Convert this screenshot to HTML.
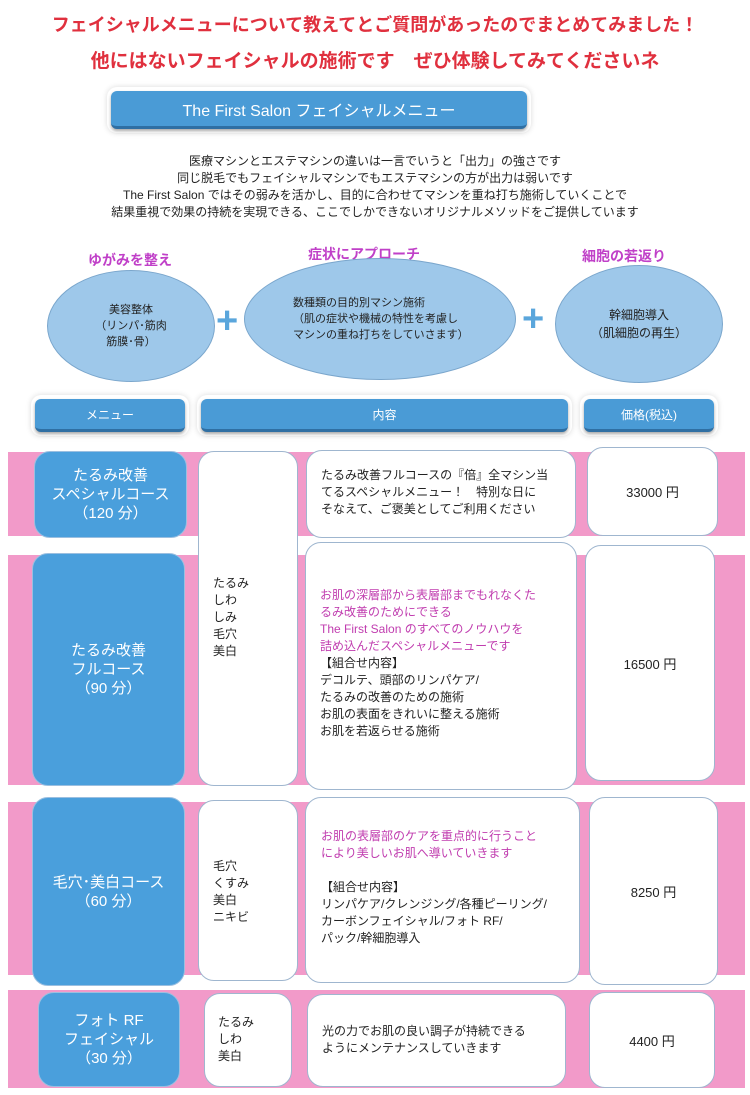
<!DOCTYPE html>
<html><head><meta charset="utf-8"><style>
*{margin:0;padding:0;box-sizing:border-box}
body{width:750px;height:1095px;background:#fff;position:relative;overflow:hidden;font-family:"Liberation Sans","Noto Sans CJK JP",sans-serif;color:#222}
.a{position:absolute}
.t{color:#e0303e;font-weight:bold;text-align:center;width:750px;left:0}
.bar{background:#4a9bd6;border-radius:6px;color:#fff;display:flex;align-items:center;justify-content:center;box-shadow:0 2px 3px rgba(0,0,0,.35),0 0 0 4px #fff,0 0 6px 4px rgba(0,0,0,.15);border-bottom:3px solid #2f6fa3}
.band{background:#f29ac9;left:8px;width:737px}
.blue{background:#4a9fdc;border-radius:16px;color:#fff;display:flex;align-items:center;justify-content:center;text-align:center;font-size:15px;line-height:19px;border:1px solid #9bbfe0}
.w{background:#fff;border:1px solid #9fb6cf;border-radius:16px}
.ell{background:#9ec8ea;border:1px solid #7aa6cc;border-radius:50%;display:flex;align-items:center;justify-content:center;text-align:center;font-size:11px;line-height:16px}
.pk{color:#c040c8;font-weight:bold;font-size:14px}
.plus{color:#5aa6dc;font-size:38px;font-weight:bold}
.txt{font-size:12px;line-height:17px}
.m{color:#c03caf}
.pr{font-size:13px;display:flex;align-items:center;justify-content:center}
</style></head><body>
<div class="a t" style="top:11px;font-size:18px">フェイシャルメニューについて教えてとご質問があったのでまとめてみました！</div>
<div class="a t" style="top:46px;font-size:19px">他にはないフェイシャルの施術です　ぜひ体験してみてくださいネ</div>
<div class="a bar" style="left:111px;top:91px;width:416px;height:38px;font-size:16px">The First Salon フェイシャルメニュー</div>
<div class="a" style="top:153px;left:0;width:750px;text-align:center;font-size:12px;line-height:17px">医療マシンとエステマシンの違いは一言でいうと「出力」の強さです<br>同じ脱毛でもフェイシャルマシンでもエステマシンの方が出力は弱いです<br>The First Salon ではその弱みを活かし、目的に合わせてマシンを重ね打ち施術していくことで<br>結果重視で効果の持続を実現できる、ここでしかできないオリジナルメソッドをご提供しています</div>
<div class="a pk" style="left:88px;top:250px">ゆがみを整え</div>
<div class="a pk" style="left:308px;top:244px">症状にアプローチ</div>
<div class="a pk" style="left:582px;top:246px">細胞の若返り</div>
<div class="a ell" style="left:47px;top:270px;width:168px;height:112px">美容整体<br>（リンパ･筋肉<br>筋膜･骨）</div>
<div class="a plus" style="left:216px;top:300px">+</div>
<div class="a ell" style="left:244px;top:258px;width:272px;height:122px;text-align:left;justify-content:flex-start;padding-left:48px">数種類の目的別マシン施術<br>（肌の症状や機械の特性を考慮し<br>マシンの重ね打ちをしていさます）</div>
<div class="a plus" style="left:522px;top:298px">+</div>
<div class="a ell" style="left:555px;top:265px;width:168px;height:118px;font-size:12px;line-height:18px">幹細胞導入<br>（肌細胞の再生）</div>
<div class="a bar" style="left:35px;top:399px;width:150px;height:33px;font-size:12px">メニュー</div>
<div class="a bar" style="left:201px;top:399px;width:367px;height:33px;font-size:12px">内容</div>
<div class="a bar" style="left:584px;top:399px;width:130px;height:33px;font-size:12px">価格(税込)</div>

<div class="a band" style="top:452px;height:84px"></div>
<div class="a band" style="top:555px;height:230px"></div>
<div class="a band" style="top:802px;height:173px"></div>
<div class="a band" style="top:990px;height:98px"></div>

<div class="a blue" style="left:34px;top:451px;width:153px;height:87px">たるみ改善<br>スペシャルコース<br>（120 分）</div>
<div class="a blue" style="left:32px;top:553px;width:153px;height:233px">たるみ改善<br>フルコース<br>（90 分）</div>
<div class="a blue" style="left:32px;top:797px;width:153px;height:189px">毛穴･美白コース<br>（60 分）</div>
<div class="a blue" style="left:38px;top:992px;width:142px;height:95px">フォト RF<br>フェイシャル<br>（30 分）</div>

<div class="a w txt" style="left:198px;top:451px;width:100px;height:335px;padding:123px 0 0 14px">たるみ<br>しわ<br>しみ<br>毛穴<br>美白</div>
<div class="a w txt" style="left:198px;top:800px;width:100px;height:181px;padding:57px 0 0 14px">毛穴<br>くすみ<br>美白<br>ニキビ</div>
<div class="a w txt" style="left:204px;top:993px;width:88px;height:94px;padding:20px 0 0 13px">たるみ<br>しわ<br>美白</div>

<div class="a w txt" style="left:306px;top:450px;width:270px;height:88px;padding:16px 0 0 14px">たるみ改善フルコースの『倍』全マシン当<br>てるスペシャルメニュー！　特別な日に<br>そなえて、ご褒美としてご利用ください</div>
<div class="a w txt" style="left:305px;top:542px;width:272px;height:248px;padding:44px 0 0 14px"><span class="m">お肌の深層部から表層部までもれなくた<br>るみ改善のためにできる<br>The First Salon のすべてのノウハウを<br>詰め込んだスペシャルメニューです</span><br>【組合せ内容】<br>デコルテ、頭部のリンパケア/<br>たるみの改善のための施術<br>お肌の表面をきれいに整える施術<br>お肌を若返らせる施術</div>
<div class="a w txt" style="left:305px;top:797px;width:275px;height:186px;padding:30px 0 0 15px"><span class="m">お肌の表層部のケアを重点的に行うこと<br>により美しいお肌へ導いていきます</span><br><br>【組合せ内容】<br>リンパケア/クレンジング/各種ピーリング/<br>カーボンフェイシャル/フォト RF/<br>パック/幹細胞導入</div>
<div class="a w txt" style="left:307px;top:994px;width:259px;height:93px;padding:28px 0 0 14px">光の力でお肌の良い調子が持続できる<br>ようにメンテナンスしていきます</div>

<div class="a w pr" style="left:587px;top:447px;width:131px;height:89px">33000 円</div>
<div class="a w pr" style="left:585px;top:545px;width:130px;height:236px">16500 円</div>
<div class="a w pr" style="left:589px;top:797px;width:129px;height:188px">8250 円</div>
<div class="a w pr" style="left:589px;top:992px;width:126px;height:96px">4400 円</div>
</body></html>
